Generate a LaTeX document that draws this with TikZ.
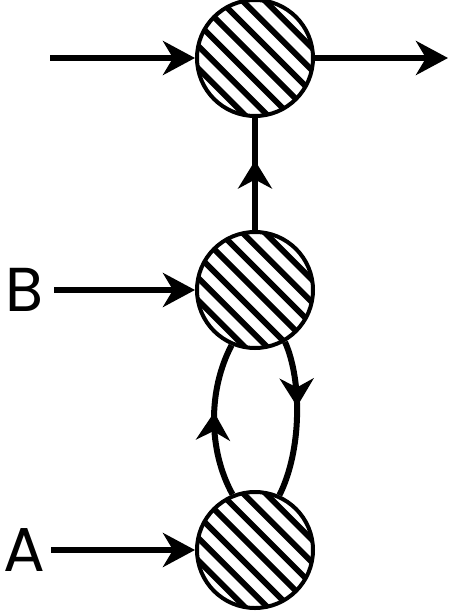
\documentclass[tikz,border=0pt]{standalone}
\usepackage{fontspec}
\setmainfont{Poppins}
\usetikzlibrary{arrows.meta,decorations.markings}
\tikzset{
  hatched/.style={circle,draw,line width=2pt,minimum size=58pt,inner sep=0pt,
    path picture={\foreach \k in {-5,...,5}
      \draw[line width=2.9pt] ([shift={(\k*5.6pt,\k*5.6pt)}]path picture bounding box.center)
        ++(-40pt,40pt) -- ++(80pt,-80pt);}},
  feed/.style={line width=3pt,-{Stealth[length=16pt,width=17pt,inset=5pt]}},
  link/.style={line width=3pt,postaction={decorate},decoration={markings,
    mark=at position #1 with {\arrow{Stealth[length=14pt,width=17pt,inset=4.5pt]}}}},
  letter/.style={font=\fontsize{31}{34}\selectfont,inner sep=0pt}
}
\begin{document}
\begin{tikzpicture}[x=0.5pt,y=-0.5pt]
  \useasboundingbox (0,0) rectangle (458,615);
  % stages
  \node[hatched] (top) at (255,58) {};
  \node[hatched] (mid) at (255,290) {};
  \node[hatched] (bot) at (255,550) {};
  % inputs
  \node[letter] (B) at (25,290) {B};
  \node[letter] (A) at (24,550) {A};
  \coordinate (in) at (50,58);
  \coordinate (out) at (448,58);
  \draw[feed] (in) -- (top);
  \draw[feed] (top) -- (out);
  \draw[feed] ([xshift=5pt]B.east) -- (mid);
  \draw[feed] ([xshift=3pt]A.east) -- (bot);
  % links
  \draw[link=0.62] (mid) -- (top);
  \draw[link=0.55] (bot.112) .. controls (208,450) and (208,390) .. (mid.247);
  \draw[link=0.42] (mid.300) .. controls (302,380) and (302,450) .. (bot.66);
\end{tikzpicture}
\end{document}
